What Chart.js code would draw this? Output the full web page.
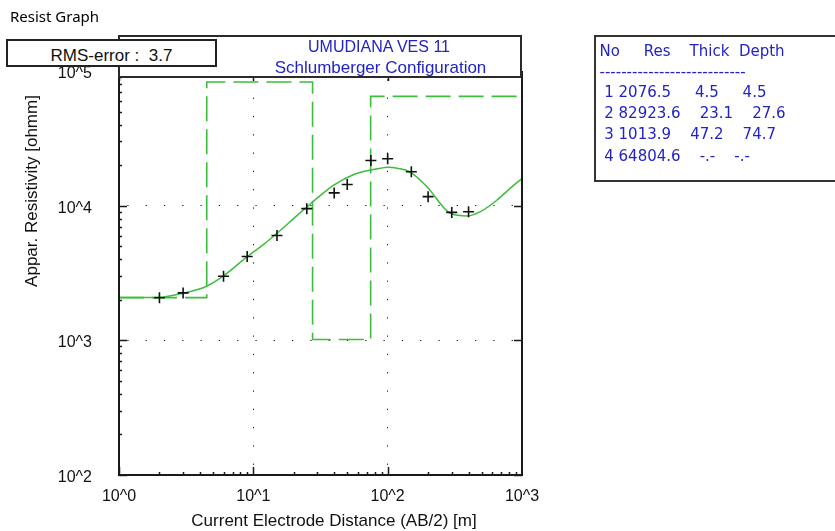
<!DOCTYPE html>
<html>
<head>
<meta charset="utf-8">
<title>Resist Graph</title>
<script src="https://cdn.jsdelivr.net/npm/chart.js@4.4.1/dist/chart.umd.min.js"></script>
<style>
  body { margin: 0; background: #fff; }
  #wrap { position: relative; width: 835px; height: 531px; overflow: hidden; font-family: "Liberation Sans", Arial, sans-serif; color: #111; }
  #wrap canvas { position: absolute; left: 0; top: 0; }
  .txt { position: absolute; white-space: pre; }
  .box { position: absolute; box-sizing: border-box; background: #fff; }
  #caption { left: 10px; top: 6px; font: 15px "Noto Sans", sans-serif; line-height: 20px; color: #000; }
  #rms { left: 6px; top: 39px; width: 211px; height: 28px; border: 2px solid #222; text-align: center; font-size: 17px; line-height: 24px; padding-top: 3px; white-space: pre; }
  #head { left: 118px; top: 35px; width: 404px; height: 43px; border: 2px solid #2a2a2a; }
  #legend { left: 594px; top: 35px; width: 300px; height: 147px; border: 2px solid #333; }
  .blue { color: #2323c4; }
  .line { height: 20px; line-height: 20px; }
  .mono { font-family: "DejaVu Sans", Verdana, sans-serif; font-size: 15px; }
</style>
</head>
<body>
<div id="wrap">
  <canvas id="resist-chart" width="835" height="531"></canvas>
  <div class="txt" id="caption">Resist Graph</div>
  <div class="box" id="head"></div>
  <div class="box" id="legend"></div>
  <div class="box" id="rms">RMS-error :  3.7</div>
  <div class="txt blue line" style="left:179px; top:36.5px; width:400px; text-align:center; font-size:16px;">UMUDIANA VES 11</div>
  <div class="txt blue line" style="left:180.5px; top:57.5px; width:400px; text-align:center; font-size:17px;">Schlumberger Configuration</div>
  <div class="txt line" style="left:134px; top:511px; width:400px; text-align:center; font-size:17px;">Current Electrode Distance (AB/2) [m]</div>
  <div class="txt line" style="left:-118px; top:181px; width:300px; text-align:center; font-size:17px; transform:rotate(-90deg);">Appar. Resistivity [ohmm]</div>
  <div id="legend-text"></div>
</div>

<script>
// Modelo de capas (resultado de la inversion)
const layerRes = [2076.5, 82923.6, 1013.9, 64804.6];
const layerThick = [4.5, 23.1, 47.2];
const layerDepth = [4.5, 27.6, 74.7];

// Mediciones de campo: AB/2 [m] y resistividad aparente [ohmm]
const abHalf = [2, 3, 6, 9, 15, 25, 40, 50, 75, 100, 150, 200, 300, 400];
const appRes = [2070, 2250, 2990, 4190, 6000, 9500, 12440, 14350, 21670, 22310, 17840, 11670, 8910, 9020];

// Curva calculada del modelo
const curveX = [1, 1.5, 2, 3, 4.4, 6, 9, 12, 15, 20, 25, 30, 40, 56, 75, 88, 100, 120, 148, 196, 293, 394, 490, 653, 820, 1000];
const curveY = [2076, 2078, 2085, 2240, 2500, 3010, 4190, 5180, 6240, 8040, 9780, 11430, 14260, 17030, 18430, 18960, 19300, 18900, 17700, 13840, 8780, 8385, 9020, 11020, 13500, 15900];

// Ejes
const xRange = [1, 1000];
const yRange = [100, 100000];
const xDecades = [1, 10, 100, 1000];
const yDecades = [100, 1000, 10000, 100000];

const FONT = 'Liberation Sans, Arial, sans-serif';
const GREEN = '#3dbd3d';

// Tabla de capas en el recuadro
function fmt(v) {
  return v.toFixed(1).padStart(4);
}

function buildLegend() {
  const lines = ['No     Res    Thick  Depth', '---------------------------'];
  layerRes.forEach(function(r, i) {
    const t = i < layerThick.length ? fmt(layerThick[i]) : '-.-';
    const d = i < layerDepth.length ? fmt(layerDepth[i]) : '-.-';
    lines.push(' ' + (i + 1) + ' ' + r.toFixed(1) + '    ' + t + '    ' + d);
  });
  const centers = [51, 71.5, 92, 113, 134, 155.5];
  const holder = document.getElementById('legend-text');
  lines.forEach(function(txt, i) {
    const el = document.createElement('div');
    el.className = 'txt blue line mono';
    el.style.left = '599.5px';
    el.style.top = (centers[i] - 10) + 'px';
    el.textContent = txt;
    holder.appendChild(el);
  });
}

function decadeLabel(v) {
  const e = Math.round(Math.log10(v));
  return Math.abs(Math.log10(v) - e) < 1e-6 ? '10^' + e : '';
}

function innerLine(ctx, range) {
  const v = ctx.tick && ctx.tick.value;
  return v > range[0] * 1.001 && v < range[1] * 0.999 ? '#222' : 'rgba(0,0,0,0)';
}

// Marco y marcas de los ejes (hacia adentro)
const framePlugin = {
  id: 'frame',
  afterDatasetsDraw(chart) {
    const { ctx, chartArea: a, scales } = chart;
    const x = scales.x, y = scales.y;
    ctx.save();
    ctx.strokeStyle = '#1a1a1a';
    ctx.lineWidth = 2;
    ctx.beginPath();
    ctx.moveTo(a.left, a.top);
    ctx.lineTo(a.left, a.bottom);
    ctx.lineTo(a.right, a.bottom);
    ctx.lineTo(a.right, a.top);
    ctx.stroke();

    ctx.lineWidth = 1.5;
    ctx.beginPath();
    for (let d = xRange[0]; d < xRange[1]; d *= 10) {
      for (let m = 1; m <= 9; m++) {
        const px = Math.round(x.getPixelForValue(d * m)) + 0.5;
        const len = m === 1 ? 8 : 3;
        ctx.moveTo(px, a.bottom);
        ctx.lineTo(px, a.bottom - len);
        if (m === 1) {
          ctx.moveTo(px, a.top);
          ctx.lineTo(px, a.top + 10);
        }
      }
    }
    for (let d = yRange[0]; d < yRange[1]; d *= 10) {
      for (let m = 1; m <= 9; m++) {
        const py = Math.round(y.getPixelForValue(d * m)) + 0.5;
        const len = m === 1 ? 8 : 3;
        ctx.moveTo(a.left, py);
        ctx.lineTo(a.left + len, py);
        if (m === 1) {
          ctx.moveTo(a.right, py);
          ctx.lineTo(a.right - 8, py);
        }
      }
    }
    ctx.stroke();
    ctx.restore();
  }
};

document.addEventListener('DOMContentLoaded', function() {
  buildLegend();

  const measured = abHalf.map(function(v, i) { return { x: v, y: appRes[i] }; });
  const curve = curveX.map(function(v, i) { return { x: v, y: curveY[i] }; });

  // Escalones del modelo: valor de cada capa hasta su profundidad
  const model = [{ x: xRange[0], y: layerRes[0] }];
  layerDepth.forEach(function(dep, i) { model.push({ x: dep, y: layerRes[i + 1] }); });
  model.push({ x: xRange[1], y: layerRes[layerRes.length - 1] });

  const ctx = document.getElementById('resist-chart').getContext('2d');
  new Chart(ctx, {
    type: 'line',
    data: {
      datasets: [{
        label: 'Measured',
        data: measured,
        showLine: false,
        pointStyle: 'cross',
        pointRadius: 5.5,
        pointBorderWidth: 1.6,
        borderColor: '#111',
        order: 0
      }, {
        label: 'Calculated',
        data: curve,
        borderColor: GREEN,
        borderWidth: 1.5,
        pointRadius: 0,
        cubicInterpolationMode: 'monotone',
        order: 1
      }, {
        label: 'Model',
        data: model,
        stepped: 'before',
        borderColor: GREEN,
        borderWidth: 1.6,
        borderDash: [25, 8],
        pointRadius: 0,
        order: 2
      }]
    },
    options: {
      responsive: false,
      animation: false,
      devicePixelRatio: 1,
      layout: { padding: { left: 0, right: 313, top: 71, bottom: 0 } },
      plugins: { legend: { display: false }, tooltip: { enabled: false } },
      scales: {
        x: {
          type: 'logarithmic',
          min: xRange[0],
          max: xRange[1],
          afterBuildTicks: function(s) { s.ticks = xDecades.map(function(v) { return { value: v }; }); },
          afterFit: function(s) { s.height = 56; },
          grid: { color: function(c) { return innerLine(c, xRange); }, lineWidth: 1, drawTicks: false },
          border: { display: false, dash: [1.3, 17], dashOffset: 10 },
          ticks: { callback: decadeLabel, autoSkip: false, maxRotation: 0, padding: 12, color: '#111', font: { family: FONT, size: 16 } }
        },
        y: {
          type: 'logarithmic',
          min: yRange[0],
          max: yRange[1],
          afterBuildTicks: function(s) { s.ticks = yDecades.map(function(v) { return { value: v }; }); },
          afterFit: function(s) { s.width = 119; },
          grid: { color: function(c) { return innerLine(c, yRange); }, lineWidth: 1, drawTicks: false },
          border: { display: false, dash: [1.3, 17], dashOffset: 10 },
          ticks: { callback: decadeLabel, autoSkip: false, padding: 27, labelOffset: 2.5, color: '#111', font: { family: FONT, size: 16 } }
        }
      }
    },
    plugins: [framePlugin]
  });
});
</script>
</body>
</html>
